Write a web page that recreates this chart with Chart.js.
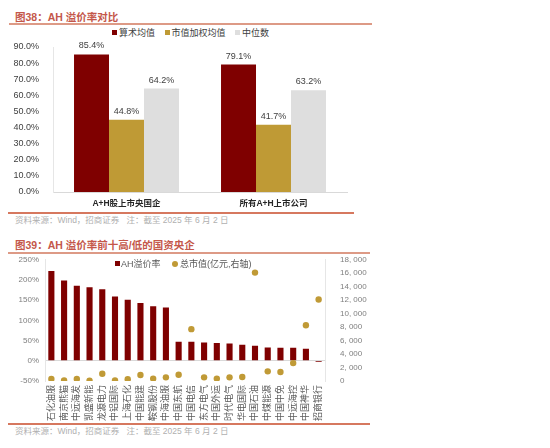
<!DOCTYPE html>
<html>
<head>
<meta charset="utf-8">
<script src="https://cdn.jsdelivr.net/npm/chart.js@4.4.1/dist/chart.umd.min.js"></script>
<style>
    body { margin: 0; background: #fff; width: 550px; height: 448px; position: relative; overflow: hidden;
           font-family: 'Liberation Sans', 'Noto Sans CJK SC', sans-serif; }
    .title { position: absolute; left: 15px; font-size: 10.5px; font-weight: bold; color: #c4574a; white-space: nowrap; line-height: 14px; }
    .rule { position: absolute; height: 2px; }
    .source { position: absolute; left: 15px; font-size: 8.5px; color: #b0b0b0; white-space: nowrap; line-height: 12px; }
    .box { position: absolute; }
    .legend { position: absolute; font-size: 9px; color: #404040; white-space: nowrap; line-height: 12px; }
    .legend span { display: inline-block; vertical-align: middle; }
</style>
</head>
<body>
<div class="title" style="top:10px;">图38：AH 溢价率对比</div>
<div class="rule" style="top:23px;left:9px;width:363px;background:#dd9a86;"></div>
<div class="legend" style="top:26px;left:112px;">
    <span style="width:5px;height:5px;background:#7f0000;"></span><span style="margin-left:2px;">算术均值</span>
    <span style="width:5px;height:5px;background:#bf9a35;margin-left:7px;"></span><span style="margin-left:2px;">市值加权均值</span>
    <span style="width:5px;height:5px;background:#dedede;margin-left:7px;"></span><span style="margin-left:2px;">中位数</span>
</div>
<div class="box" style="left:0;top:26px;width:352px;height:186px;"><canvas id="premiumCompareChart"></canvas></div>
<div class="rule" style="top:212px;left:8px;width:346px;background:#d6785f;"></div>
<div class="source" style="top:214px;">资料来源：Wind，招商证券 &nbsp; 注：截至 2025 年 6 月 2 日</div>

<div class="title" style="top:238px;">图39：AH 溢价率前十高/低的国资央企</div>
<div class="rule" style="top:252px;left:8px;width:362px;background:#dd9a86;"></div>
<div class="box" style="left:0;top:248px;width:368px;height:175px;"><canvas id="topBottomChart"></canvas></div>
<div class="legend" style="top:257px;left:115px;color:#595959;">
    <span style="width:5px;height:5px;background:#7f0000;"></span><span style="margin-left:1px;">AH溢价率</span>
    <span style="width:6px;height:6px;border-radius:50%;background:#c09a36;margin-left:9px;"></span><span style="margin-left:2px;">总市值(亿元,右轴)</span>
</div>
<div class="rule" style="top:423px;left:8px;width:362px;background:#d6785f;"></div>
<div class="source" style="top:425px;">资料来源：Wind，招商证券 &nbsp; 注：截至 2025 年 6 月 2 日</div>

<script>
// 图38 data
const groupLabels = ['A+H股上市央国企', '所有A+H上市公司'];
const meanPremium = [85.4, 79.1];
const capWeightedPremium = [44.8, 41.7];
const medianPremium = [64.2, 63.2];

// 图39 data
const companyNames = ['石化油服', '南京熊猫', '中远海发', '凯盛新能', '龙源电力', '中铝国际', '上海石化', '中国能建', '鞍钢股份', '中海油服',
    '中国东航', '中国电信', '东方电气', '中国外运', '时代电气', '华电国际', '中国石油', '中煤能源', '中国中免', '中远海控', '中国神华', '招商银行'];
const ahPremium = [222, 199, 186, 182, 177, 159, 151, 143, 135, 132,
    47, 47, 45, 44, 43, 40, 37, 33, 32.5, 32.5, 30, -3];
const marketCap = [300, 100, 300, 50, 1080, 100, 250, 890, 350, 540,
    930, 7700, 540, 350, 540, 590, 16100, 1430, 1330, 2660, 8280, 12100];

const FONT = "'Liberation Sans', 'Noto Sans CJK SC', sans-serif";

// draws the value above each bar
const barLabels = {
    id: 'barLabels',
    afterDatasetsDraw(chart) {
        const ctx = chart.ctx;
        ctx.save();
        ctx.font = '9px ' + FONT;
        ctx.fillStyle = '#404040';
        ctx.textAlign = 'center';
        ctx.textBaseline = 'bottom';
        chart.data.datasets.forEach((ds, i) => {
            chart.getDatasetMeta(i).data.forEach((bar, j) => {
                ctx.fillText(ds.data[j].toFixed(1) + '%', bar.x, bar.y - 4);
            });
        });
        ctx.restore();
    }
};

function loadPremiumCompare() {
    const ctx = document.getElementById('premiumCompareChart').getContext('2d');
    new Chart(ctx, {
        type: 'bar',
        data: {
            labels: groupLabels,
            datasets: [
                { label: '算术均值', data: meanPremium, backgroundColor: '#7f0000' },
                { label: '市值加权均值', data: capWeightedPremium, backgroundColor: '#bf9a35' },
                { label: '中位数', data: medianPremium, backgroundColor: '#dedede' }
            ]
        },
        options: {
            responsive: true,
            maintainAspectRatio: false,
            animation: false,
            layout: { padding: { top: 21, right: 5, bottom: 0, left: 0 } },
            datasets: { bar: { categoryPercentage: 0.714, barPercentage: 1.0 } },
            plugins: { legend: { display: false }, tooltip: { enabled: false } },
            scales: {
                x: {
                    grid: { display: false, drawTicks: false },
                    border: { display: true, color: '#d9d9d9' },
                    afterFit(scale) { scale.height = 20; },
                    ticks: { color: '#262626', font: { size: 8.5, family: FONT, weight: 'bold' }, padding: 7 }
                },
                y: {
                    min: 0, max: 90,
                    grid: { display: false },
                    border: { display: true, color: '#e6e6e6' },
                    afterFit(scale) { scale.width = 53; },
                    ticks: {
                        stepSize: 10, autoSkip: false, color: '#404040', padding: 6,
                        font: { size: 9, family: FONT },
                        callback: v => v.toFixed(1) + '%'
                    }
                }
            }
        },
        plugins: [barLabels]
    });
}

function loadTopBottom() {
    const ctx = document.getElementById('topBottomChart').getContext('2d');
    new Chart(ctx, {
        data: {
            labels: companyNames,
            datasets: [
                { type: 'line', label: '总市值(亿元,右轴)', data: marketCap, yAxisID: 'y1', showLine: false,
                  pointRadius: 3.2, pointBackgroundColor: '#c09a36', pointBorderWidth: 0, order: 0 },
                { type: 'bar', label: 'AH溢价率', data: ahPremium, yAxisID: 'y', backgroundColor: '#7f0000',
                  barPercentage: 0.48, categoryPercentage: 1.0, order: 1 }
            ]
        },
        options: {
            responsive: true,
            maintainAspectRatio: false,
            animation: false,
            layout: { padding: { top: 0, right: 0, bottom: 0, left: 0 } },
            plugins: { legend: { display: false }, tooltip: { enabled: false } },
            scales: {
                x: {
                    grid: { display: false, drawTicks: false },
                    border: { display: false },
                    afterFit(scale) { scale.height = 42; },
                    ticks: {
                        minRotation: 90, maxRotation: 90, autoSkip: false, padding: 4,
                        color: '#595959', font: { size: 9, family: FONT }
                    }
                },
                y: {
                    position: 'left', min: -50, max: 250,
                    afterFit(scale) { scale.width = 45; },
                    grid: {
                        drawTicks: false,
                        color: c => c.tick && c.tick.value === 0 ? '#d9d9d9' : 'rgba(0,0,0,0)'
                    },
                    border: { display: true, color: '#e6e6e6' },
                    ticks: {
                        stepSize: 50, autoSkip: false, color: '#7f7f7f', padding: 6,
                        font: { size: 8, family: FONT },
                        callback: v => v + '%'
                    }
                },
                y1: {
                    position: 'right', min: 0, max: 18000,
                    afterFit(scale) { scale.width = 43; },
                    grid: { display: false },
                    border: { display: true, color: '#e6e6e6' },
                    ticks: {
                        stepSize: 2000, autoSkip: false, color: '#7f7f7f', padding: 7,
                        font: { size: 8, family: FONT },
                        callback: v => v.toLocaleString('en-US').replace(',', ', ')
                    }
                }
            }
        }
    });
}

document.addEventListener('DOMContentLoaded', function() {
    loadPremiumCompare();
    loadTopBottom();
});
</script>
</body>
</html>
